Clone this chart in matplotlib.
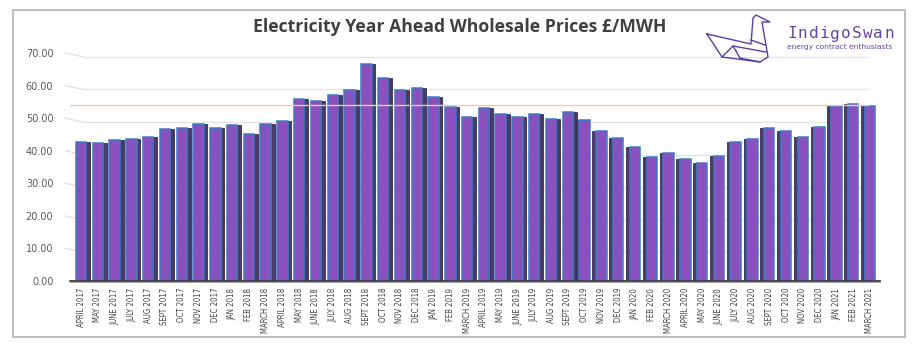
import matplotlib
matplotlib.use("Agg")
import matplotlib.pyplot as plt
from matplotlib.lines import Line2D
from matplotlib.patches import Rectangle

months = ["APRIL 2017", "MAY 2017", "JUNE 2017", "JULY 2017", "AUG 2017", "SEPT 2017",
          "OCT 2017", "NOV 2017", "DEC 2017", "JAN 2018", "FEB 2018", "MARCH 2018",
          "APRIL 2018", "MAY 2018", "JUNE 2018", "JULY 2018", "AUG 2018", "SEPT 2018",
          "OCT 2018", "NOV 2018", "DEC 2018", "JAN 2019", "FEB 2019", "MARCH 2019",
          "APRIL 2019", "MAY 2019", "JUNE 2019", "JULY 2019", "AUG 2019", "SEPT 2019",
          "OCT 2019", "NOV 2019", "DEC 2019", "JAN 2020", "FEB 2020", "MARCH 2020",
          "APRIL 2020", "MAY 2020", "JUNE 2020", "JULY 2020", "AUG 2020", "SEPT 2020",
          "OCT 2020", "NOV 2020", "DEC 2020", "JAN 2021", "FEB 2021", "MARCH 2021"]
prices = [42.7, 42.4, 43.2, 43.5, 44.2, 46.8,
          47.1, 48.2, 47.0, 48.0, 45.0, 48.3,
          49.1, 55.9, 55.4, 57.0, 58.7, 66.7,
          62.2, 58.6, 59.2, 56.6, 53.4, 50.5,
          53.0, 51.4, 50.3, 51.2, 49.8, 52.0,
          49.4, 46.2, 43.9, 41.2, 38.2, 39.2,
          37.4, 36.3, 38.4, 42.6, 43.6, 47.0,
          46.1, 44.3, 47.3, 53.7, 54.2, 53.8]
current_price = 53.9
yticks = [0, 10, 20, 30, 40, 50, 60, 70]
title = "Electricity Year Ahead Wholesale Prices £/MWH"
brand = "IndigoSwan"
tagline = "energy contract enthusiasts"

W, H = 918, 350
fig = plt.figure(figsize=(W / 100, H / 100), dpi=100)
fig.patch.set_facecolor("white")

# outer border
fig.add_artist(Rectangle((13 / W, 1 - 337 / H), (905 - 13) / W, (337 - 10) / H,
                         transform=fig.transFigure, fill=False, edgecolor="#bfbfbf", lw=1.5))

ax_l, ax_r, ax_b, ax_t = 70, 880, 281, 53
ax = fig.add_axes([ax_l / W, 1 - ax_b / H, (ax_r - ax_l) / W, (ax_b - ax_t) / H])
n = len(prices)
x = list(range(n))
ax.set_xlim(-0.66, n - 1 + 0.6)
ax.set_ylim(0, 70)

# back-wall gridlines with perspective connectors
for v in yticks[1:]:
    ax.plot([-0.95, 0.12], [v, v - 1.2], color="#dcdcdc", lw=0.8, zorder=0, clip_on=False)
    ax.plot([0.12, 46.8], [v - 1.2, v - 1.2], color="#e3e3e3", lw=1.0, zorder=0)

# shadow (3D side) then face
shift = [0.22 if i < 30 else -0.22 for i in x]
ax.bar([i + s for i, s in zip(x, shift)], prices, width=0.62, color="#4a3a68",
       edgecolor="#3a2d55", lw=0.6, zorder=2)
ax.bar(x, prices, width=0.62, color="#8a50bd", edgecolor="#3f7cc6", lw=1.1, zorder=3)

# floor
ax.add_patch(Rectangle((-0.66, -0.5), n + 0.3, 0.9, facecolor="#a6a6a6",
                       edgecolor="none", zorder=1, clip_on=False))
ax.axhline(0, color="#404040", lw=1.2, zorder=4, clip_on=False)

# current price reference line
ax.axhline(current_price, color="#f4c7a8", lw=1.0, zorder=5, xmin=0.0, xmax=0.985)

ax.set_yticks(yticks)
ax.set_yticklabels([f"{v:.2f}" for v in yticks], fontsize=7, color="#595959",
                   family="DejaVu Sans")
ax.set_xticks(x)
ax.set_xticklabels(months, rotation=90, fontsize=5.6, color="#404040",
                   family="DejaVu Sans", fontstretch="condensed")
ax.tick_params(axis="y", length=0, pad=12)
ax.tick_params(axis="x", length=0, pad=5)
for s in ax.spines.values():
    s.set_visible(False)

fig.text(460 / W, 1 - 27 / H, title, ha="center", va="center", fontsize=12.7,
         fontweight="bold", color="#404040", family="Open Sans")

# logo text (letter-spaced)
for k, ch in enumerate(brand):
    fig.text((787 + k * 10.8) / W, 1 - 34 / H, ch, ha="left", va="center", fontsize=11.5,
             color="#6645a8", family="DejaVu Sans Mono")
fig.text(787 / W, 1 - 47 / H, tagline, ha="left", va="center",
         fontsize=5.4, color="#6645a8", family="DejaVu Sans")

# origami swan outline (decoration)
def pl(pts):
    xs = [p[0] / W for p in pts]
    ys = [1 - p[1] / H for p in pts]
    fig.add_artist(Line2D(xs, ys, transform=fig.transFigure, color="#5b3fa0", lw=1.0))

pl([(707, 34), (722, 57), (760, 62), (768, 57), (762, 22), (770, 22), (756, 15),
    (753, 18), (751, 44), (707, 34)])
pl([(722, 57), (733, 46), (740, 58)])
pl([(733, 46), (766, 52)])
pl([(740, 58), (760, 62)])
pl([(751, 40), (765, 45)])

fig.savefig("out.png", dpi=100, facecolor="white")
